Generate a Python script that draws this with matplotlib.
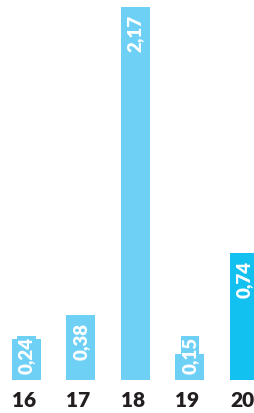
import matplotlib
matplotlib.use("Agg")
import matplotlib.pyplot as plt
from matplotlib.transforms import offset_copy, ScaledTranslation

categories = ["16", "17", "18", "19", "20"]
values = [0.24, 0.38, 2.17, 0.15, 0.74]
labels = ["0,24", "0,38", "2,17", "0,15", "0,74"]
colors = ["#6FD0F6", "#6FD0F6", "#6FD0F6", "#6FD0F6", "#13C1F1"]

W, H = 255, 413
dpi = 100
fig = plt.figure(figsize=(W / dpi, H / dpi), dpi=dpi)
base_px = 380.0
ax = fig.add_axes([0, (H - base_px) / H, 1, base_px / H])

px_per_unit = 172.0
spacing = 54.5
first_center = 26.5
ax.set_xlim(-first_center / spacing, (W - first_center) / spacing)
ax.set_ylim(0, base_px / px_per_unit)

x = list(range(len(categories)))
ax.bar(x, values, width=29 / spacing, color=colors, clip_on=True)

lab_font = dict(rotation=90, ha="center", color="white", fontsize=13.5,
                fontweight="heavy", family=["Lato", "DejaVu Sans"])
for xi, v, lab, c in zip(x, values, labels, colors):
    h_px = v * px_per_unit
    if h_px > 55:
        t = offset_copy(ax.transData, fig=fig, x=0, y=-8, units="dots")
        ax.text(xi, v, lab, transform=t, va="top", **lab_font)
    else:
        t = offset_copy(ax.transData, fig=fig, x=0, y=6, units="dots")
        ax.text(xi, 0, lab, transform=t, va="bottom",
                bbox=dict(facecolor=c, edgecolor="none", pad=0.5), **lab_font)

ax.set_xticks(x)
ax.set_xticklabels(categories, fontsize=15, fontweight="heavy",
                   family=["Lato", "DejaVu Sans"], color="#231F20")
ax.tick_params(axis="x", length=0, pad=8)
shift = ScaledTranslation(-2.5 / dpi, 0, fig.dpi_scale_trans)
for tl in ax.get_xticklabels():
    tl.set_transform(tl.get_transform() + shift)
ax.set_yticks([])
for s in ax.spines.values():
    s.set_visible(False)

fig.savefig("out.png", dpi=dpi)
